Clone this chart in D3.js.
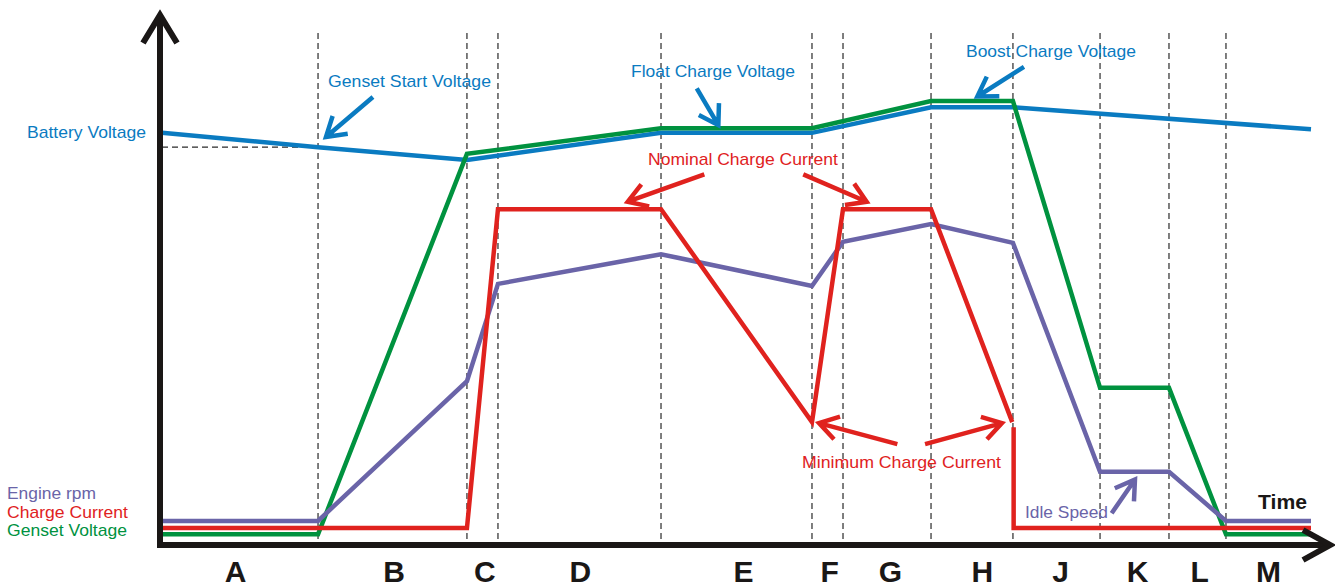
<!DOCTYPE html>
<html><head><meta charset="utf-8">
<script src="https://cdn.jsdelivr.net/npm/d3@7"></script>
<style>
body{margin:0;background:#fff}
svg{display:block}
text{font-family:"Liberation Sans",Arial,Helvetica,sans-serif}
</style>
</head><body>
<svg id="c" width="1335" height="588"></svg>
<script>
// ---------- data (time in arbitrary units 0..100, levels 0..100) ----------
const phases        = ["A","B","C","D","E","F","G","H","J","K","L","M"];
const phaseLabelAt  = [6.4,20.2,28.1,36.4,50.6,58.1,63.4,71.4,78.2,84.9,90.3,96.3];
const boundaries    = [13.58,26.54,29.24,43.43,56.57,59.27,66.93,74.06,81.64,87.64,92.60];

const batteryT = [0,13.58,26.54,43.43,56.57,66.93,74.06,100];
const batteryV = [80.5,77.7,75.2,80.5,80.5,85.5,85.5,81.2];

const gensetT  = [0,13.58,26.54,43.43,56.57,66.93,74.06,81.64,87.64,92.60,100];
const gensetV  = [2.1,2.1,76.4,81.4,81.4,86.7,86.7,30.7,30.7,2.1,2.1];

const rpmT     = [0,13.58,26.54,29.24,43.43,56.57,59.27,66.93,74.06,81.64,87.64,92.60,100];
const rpmV     = [4.7,4.7,32.0,51.0,56.8,50.6,59.2,62.7,59.0,14.3,14.3,4.7,4.7];

const currentT = [0,26.54,29.24,43.43,56.57,59.27,66.93,74.0,74.06,74.12,74.12,100];
const currentV = [3.3,3.3,65.6,65.6,24.0,65.6,65.6,24.0,null,23.0,3.3,3.3];

// annotation arrows: [tailT, tailV], [tipT, tipV]
const arrowNames = ["Genset Start","Float","Boost","Nominal L","Nominal R","Minimum L","Minimum R","Idle"];
const arrowTail  = [[18.36,87.5],[46.54,89.2],[75.02,93.4],[47.2,72.4],[55.81,72.4],[64.0,19.7],[66.41,19.7],[82.65,6.2]];
const arrowTip   = [[14.27,79.7],[48.42,82.0],[70.96,87.6],[40.53,67.05],[61.33,67.05],[57.18,23.8],[73.1,23.8],[84.68,12.8]];
const arrowColor = ["blue","blue","blue","red","red","red","red","purple"];

// ---------- styles ----------
const C = {blue:"#0a7bc1", green:"#00923f", red:"#e0221e", purple:"#6a64a8", axis:"#1a1716", dash:"#2a2a2a"};

const svg = d3.select("#c");
const x = d3.scaleLinear().domain([0,100]).range([162,1311]);
const y = d3.scaleLinear().domain([0,100]).range([545,33]);

// dashed phase boundaries
svg.append("g").selectAll("line").data(boundaries).join("line")
  .attr("x1",d=>x(d)).attr("x2",d=>x(d))
  .attr("y1",y(100)).attr("y2",y(0)-3)
  .attr("stroke",C.dash).attr("stroke-width",1.2).attr("stroke-dasharray","6,4");

// dashed genset start voltage reference
svg.append("line")
  .attr("x1",x(0)).attr("x2",x(boundaries[0]))
  .attr("y1",y(batteryV[1])).attr("y2",y(batteryV[1]))
  .attr("stroke",C.dash).attr("stroke-width",1.2).attr("stroke-dasharray","6,4");

// series
const line = d3.line().defined(d=>d[1]!=null).x(d=>x(d[0])).y(d=>y(d[1]));
const series = [
  {T:batteryT,V:batteryV,c:C.blue},
  {T:gensetT,V:gensetV,c:C.green},
  {T:rpmT,V:rpmV,c:C.purple},
  {T:currentT,V:currentV,c:C.red}
];
series.forEach(s=>{
  svg.append("path").datum(s.T.map((t,i)=>[t,s.V[i]]))
    .attr("d",line).attr("fill","none").attr("stroke",s.c)
    .attr("stroke-width",4.5).attr("stroke-linejoin","miter").attr("stroke-miterlimit",6);
});

// axes
const ax0 = x.range()[0]-2, ay0 = y.range()[0];
const axis = svg.append("g").attr("fill","none").attr("stroke",C.axis).attr("stroke-width",6);
axis.append("line").attr("x1",ax0).attr("x2",ax0).attr("y1",ay0+3).attr("y2",16);
axis.append("line").attr("x1",ax0-3).attr("x2",1328).attr("y1",ay0).attr("y2",ay0);
axis.append("path").attr("d",`M${ax0-17},${43} L${ax0},${15} L${ax0+17},${43}`).attr("stroke-linejoin","miter");
axis.append("path").attr("d",`M${1303},${ay0-15} L${1330},${ay0} L${1303},${ay0+15}`).attr("stroke-linejoin","miter");

// annotation arrows
const ag = svg.append("g").attr("fill","none").attr("stroke-width",4.5).attr("stroke-linecap","butt");
arrowNames.forEach((n,i)=>{
  const tx=x(arrowTail[i][0]), ty=y(arrowTail[i][1]), px=x(arrowTip[i][0]), py=y(arrowTip[i][1]);
  const a=Math.atan2(ty-py,tx-px), L=22, s=32*Math.PI/180;
  const a1=[px+L*Math.cos(a+s), py+L*Math.sin(a+s)], a2=[px+L*Math.cos(a-s), py+L*Math.sin(a-s)];
  ag.append("path").attr("stroke",C[arrowColor[i]])
    .attr("d",`M${tx},${ty}L${px},${py}M${a1[0]},${a1[1]}L${px},${py}L${a2[0]},${a2[1]}`)
    .attr("stroke-linejoin","miter");
});

// texts
const labels = [
  {t:"Battery Voltage",x:27,y:138,w:119,c:C.blue},
  {t:"Genset Start Voltage",x:328,y:87,w:163,c:C.blue},
  {t:"Float Charge Voltage",x:631,y:77,w:164,c:C.blue},
  {t:"Boost Charge Voltage",x:966,y:57,w:170,c:C.blue},
  {t:"Nominal Charge Current",x:648,y:165,w:190,c:C.red},
  {t:"Minimum Charge Current",x:802,y:468,w:199,c:C.red},
  {t:"Idle Speed",x:1025,y:518,w:83,c:C.purple},
  {t:"Engine rpm",x:7,y:499,w:89,c:C.purple},
  {t:"Charge Current",x:7,y:518,w:121,c:C.red},
  {t:"Genset Voltage",x:7,y:536,w:120,c:C.green}
];
svg.append("g").selectAll("text").data(labels).join("text")
  .attr("x",d=>d.x).attr("y",d=>d.y).attr("fill",d=>d.c)
  .attr("font-size",17).attr("textLength",d=>d.w).attr("lengthAdjust","spacingAndGlyphs")
  .text(d=>d.t);

svg.append("text").attr("x",1258).attr("y",509).attr("font-size",20).attr("font-weight","bold")
  .attr("fill",C.axis).attr("textLength",49).attr("lengthAdjust","spacingAndGlyphs").text("Time");

svg.append("g").selectAll("text").data(phases).join("text")
  .attr("x",(d,i)=>x(phaseLabelAt[i])).attr("y",582).attr("text-anchor","middle")
  .attr("font-size",30).attr("font-weight","bold").attr("fill",C.axis)
  .text(d=>d);
</script>
</body></html>
